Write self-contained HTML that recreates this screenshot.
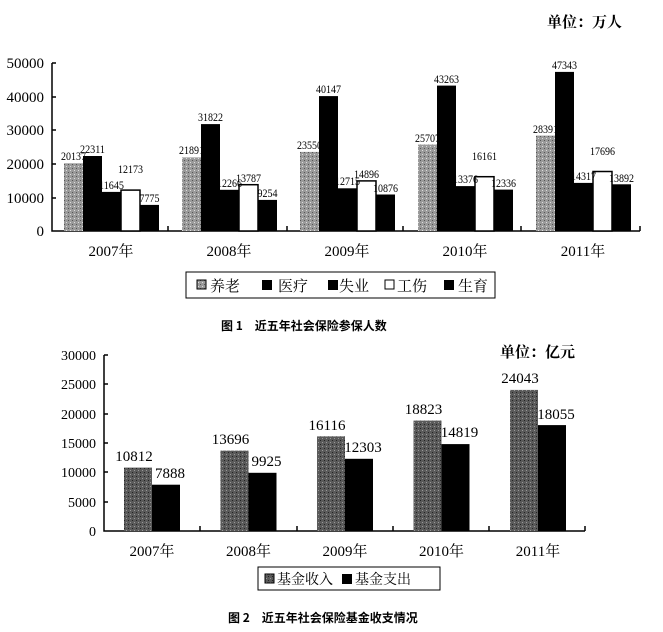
<!DOCTYPE html><html><head><meta charset="utf-8"><style>
body{margin:0;background:#fff}
svg text{font-family:"Liberation Serif","Noto Serif CJK SC",serif;fill:#000}
.s{font-size:12px;text-anchor:middle}
.m{font-size:15px;text-anchor:middle}
.y{font-size:15px;text-anchor:middle}
</style></head><body>
<svg width="663" height="627" xmlns="http://www.w3.org/2000/svg">
<defs><pattern id="g" width="4" height="4" patternUnits="userSpaceOnUse"><rect width="4" height="4" fill="#9a9a9a"/><rect width="1" height="1" fill="#555"/><rect x="2" y="2" width="1" height="1" fill="#ddd"/></pattern>
<pattern id="g2" width="4" height="4" patternUnits="userSpaceOnUse"><rect width="4" height="4" fill="#5a5a5a"/><rect width="1" height="1" fill="#222"/><rect x="2" y="2" width="1" height="1" fill="#999"/></pattern></defs>
<text x="547" y="27" font-size="15" font-weight="bold">单位：万人</text>
<g font-size="15" text-anchor="end">
<text x="44" y="68">50000</text><text x="44" y="102">40000</text><text x="44" y="135">30000</text><text x="44" y="169">20000</text><text x="44" y="203">10000</text><text x="44" y="236">0</text></g>
<path d="M52 63V231H640M52 63h4M52 97h4M52 130h4M52 164h4M52 198h4M168 231v-5M287 231v-5M403 231v-5M521 231v-5M640 231v-5" stroke="#000" stroke-width="1.5" fill="none"/>

<rect x="64" y="163.3" width="19" height="67.7" fill="url(#g)"/><rect x="83" y="156" width="19" height="75" fill="#000"/><rect x="102" y="191.9" width="19" height="39.1" fill="#000"/><rect x="121" y="190.1" width="19" height="40.9" fill="#fff" stroke="#000" stroke-width="1.5"/><rect x="140" y="204.9" width="19" height="26.1" fill="#000"/>
<rect x="182" y="157.4" width="19" height="73.6" fill="url(#g)"/><rect x="201" y="124.1" width="19" height="106.9" fill="#000"/><rect x="220" y="189.8" width="19" height="41.2" fill="#000"/><rect x="239" y="184.7" width="19" height="46.3" fill="#fff" stroke="#000" stroke-width="1.5"/><rect x="258" y="199.9" width="19" height="31.1" fill="#000"/>
<rect x="300" y="151.9" width="19" height="79.1" fill="url(#g)"/><rect x="319" y="96.1" width="19" height="134.9" fill="#000"/><rect x="338" y="188.3" width="19" height="42.7" fill="#000"/><rect x="357" y="180.9" width="19" height="50.1" fill="#fff" stroke="#000" stroke-width="1.5"/><rect x="376" y="194.5" width="19" height="36.5" fill="#000"/>
<rect x="418" y="144.6" width="19" height="86.4" fill="url(#g)"/><rect x="437" y="85.6" width="19" height="145.4" fill="#000"/><rect x="456" y="186.1" width="19" height="44.9" fill="#000"/><rect x="475" y="176.7" width="19" height="54.3" fill="#fff" stroke="#000" stroke-width="1.5"/><rect x="494" y="189.6" width="19" height="41.4" fill="#000"/>
<rect x="536" y="135.6" width="19" height="95.4" fill="url(#g)"/><rect x="555" y="71.9" width="19" height="159.1" fill="#000"/><rect x="574" y="182.9" width="19" height="48.1" fill="#000"/><rect x="593" y="171.5" width="19" height="59.5" fill="#fff" stroke="#000" stroke-width="1.5"/><rect x="612" y="184.3" width="19" height="46.7" fill="#000"/>

<g lengthAdjust="spacingAndGlyphs">
<text class="s" x="73.5" y="160" textLength="25" lengthAdjust="spacingAndGlyphs">20137</text><text class="s" x="92.5" y="153" textLength="25" lengthAdjust="spacingAndGlyphs">22311</text><text class="s" x="111.5" y="189" textLength="25" lengthAdjust="spacingAndGlyphs">11645</text><text class="s" x="130.5" y="173" textLength="25" lengthAdjust="spacingAndGlyphs">12173</text><text class="s" x="149.5" y="202" textLength="20" lengthAdjust="spacingAndGlyphs">7775</text>
<text class="s" x="191.5" y="154" textLength="25" lengthAdjust="spacingAndGlyphs">21891</text><text class="s" x="210.5" y="121" textLength="25" lengthAdjust="spacingAndGlyphs">31822</text><text class="s" x="229.5" y="187" textLength="25" lengthAdjust="spacingAndGlyphs">12266</text><text class="s" x="248.5" y="182" textLength="25" lengthAdjust="spacingAndGlyphs">13787</text><text class="s" x="267.5" y="197" textLength="20" lengthAdjust="spacingAndGlyphs">9254</text>
<text class="s" x="309.5" y="149" textLength="25" lengthAdjust="spacingAndGlyphs">23550</text><text class="s" x="328.5" y="93" textLength="25" lengthAdjust="spacingAndGlyphs">40147</text><text class="s" x="347.5" y="185" textLength="25" lengthAdjust="spacingAndGlyphs">12715</text><text class="s" x="366.5" y="178" textLength="25" lengthAdjust="spacingAndGlyphs">14896</text><text class="s" x="385.5" y="192" textLength="25" lengthAdjust="spacingAndGlyphs">10876</text>
<text class="s" x="427.5" y="142" textLength="25" lengthAdjust="spacingAndGlyphs">25707</text><text class="s" x="446.5" y="83" textLength="25" lengthAdjust="spacingAndGlyphs">43263</text><text class="s" x="465.5" y="183" textLength="25" lengthAdjust="spacingAndGlyphs">13376</text><text class="s" x="484.5" y="160" textLength="25" lengthAdjust="spacingAndGlyphs">16161</text><text class="s" x="503.5" y="187" textLength="25" lengthAdjust="spacingAndGlyphs">12336</text>
<text class="s" x="545.5" y="133" textLength="25" lengthAdjust="spacingAndGlyphs">28391</text><text class="s" x="564.5" y="69" textLength="25" lengthAdjust="spacingAndGlyphs">47343</text><text class="s" x="583.5" y="180" textLength="25" lengthAdjust="spacingAndGlyphs">14317</text><text class="s" x="602.5" y="155" textLength="25" lengthAdjust="spacingAndGlyphs">17696</text><text class="s" x="621.5" y="182" textLength="25" lengthAdjust="spacingAndGlyphs">13892</text>
</g>
<text class="y" x="111" y="256">2007年</text><text class="y" x="229" y="256">2008年</text><text class="y" x="347" y="256">2009年</text><text class="y" x="465" y="256">2010年</text><text class="y" x="583" y="256">2011年</text>

<rect x="186" y="272" width="309" height="26" fill="none" stroke="#000" stroke-width="1"/>
<g font-size="15"><rect x="197" y="280" width="9" height="9" fill="url(#g)" stroke="#000"/><text x="210" y="291">养老</text>
<rect x="262" y="280" width="10" height="10" fill="#000"/><text x="278" y="291">医疗</text>
<rect x="328" y="280" width="10" height="10" fill="#000"/><text x="339" y="291">失业</text>
<rect x="385" y="280" width="9" height="9" fill="#fff" stroke="#000"/><text x="397" y="291">工伤</text>
<rect x="444" y="280" width="10" height="10" fill="#000"/><text x="458" y="291">生育</text></g>
<text x="221" y="330" font-size="12" font-weight="bold" style="font-family:'Noto Sans CJK SC',sans-serif">图 1　近五年社会保险参保人数</text>

<text x="500" y="357" font-size="15" font-weight="bold">单位：亿元</text>
<g font-size="14" text-anchor="end"><text x="96" y="360">30000</text><text x="96" y="389">25000</text><text x="96" y="419">20000</text><text x="96" y="448">15000</text><text x="96" y="477">10000</text><text x="96" y="507">5000</text><text x="96" y="536">0</text></g>
<path d="M104 355V531H585M104 355h4M104 384h4M104 414h4M104 443h4M104 472h4M104 502h4M200 531v-5M297 531v-5M393 531v-5M489 531v-5M585 531v-5" stroke="#000" stroke-width="1.5" fill="none"/>
<rect x="124" y="467.6" width="28" height="63.4" fill="url(#g2)"/><rect x="152" y="484.7" width="28" height="46.3" fill="#000"/>
<rect x="220.5" y="450.6" width="28" height="80.4" fill="url(#g2)"/><rect x="248.5" y="472.8" width="28" height="58.2" fill="#000"/>
<rect x="317" y="436.4" width="28" height="94.6" fill="url(#g2)"/><rect x="345" y="458.8" width="28" height="72.2" fill="#000"/>
<rect x="413.5" y="420.6" width="28" height="110.4" fill="url(#g2)"/><rect x="441.5" y="444.1" width="28" height="86.9" fill="#000"/>
<rect x="510" y="389.9" width="28" height="141.1" fill="url(#g2)"/><rect x="538" y="425.1" width="28" height="105.9" fill="#000"/>
<text class="m" x="134" y="461">10812</text><text class="m" x="170" y="478">7888</text>
<text class="m" x="230.5" y="444">13696</text><text class="m" x="266.5" y="466">9925</text>
<text class="m" x="327" y="430">16116</text><text class="m" x="363" y="452">12303</text>
<text class="m" x="423.5" y="414">18823</text><text class="m" x="459.5" y="437">14819</text>
<text class="m" x="520" y="383">24043</text><text class="m" x="556" y="419">18055</text>
<text class="y" x="152" y="556">2007年</text><text class="y" x="248.5" y="556">2008年</text><text class="y" x="345" y="556">2009年</text><text class="y" x="441.5" y="556">2010年</text><text class="y" x="538" y="556">2011年</text>
<rect x="258" y="567" width="182" height="23" fill="none" stroke="#000"/>
<g font-size="14"><rect x="265" y="574" width="9" height="9" fill="url(#g2)" stroke="#000"/><text x="277" y="584">基金收入</text>
<rect x="342" y="574" width="10" height="10" fill="#000"/><text x="355" y="584">基金支出</text></g>
<text x="228" y="622" font-size="12" font-weight="bold" style="font-family:'Noto Sans CJK SC',sans-serif">图 2　近五年社会保险基金收支情况</text>
</svg></body></html>
